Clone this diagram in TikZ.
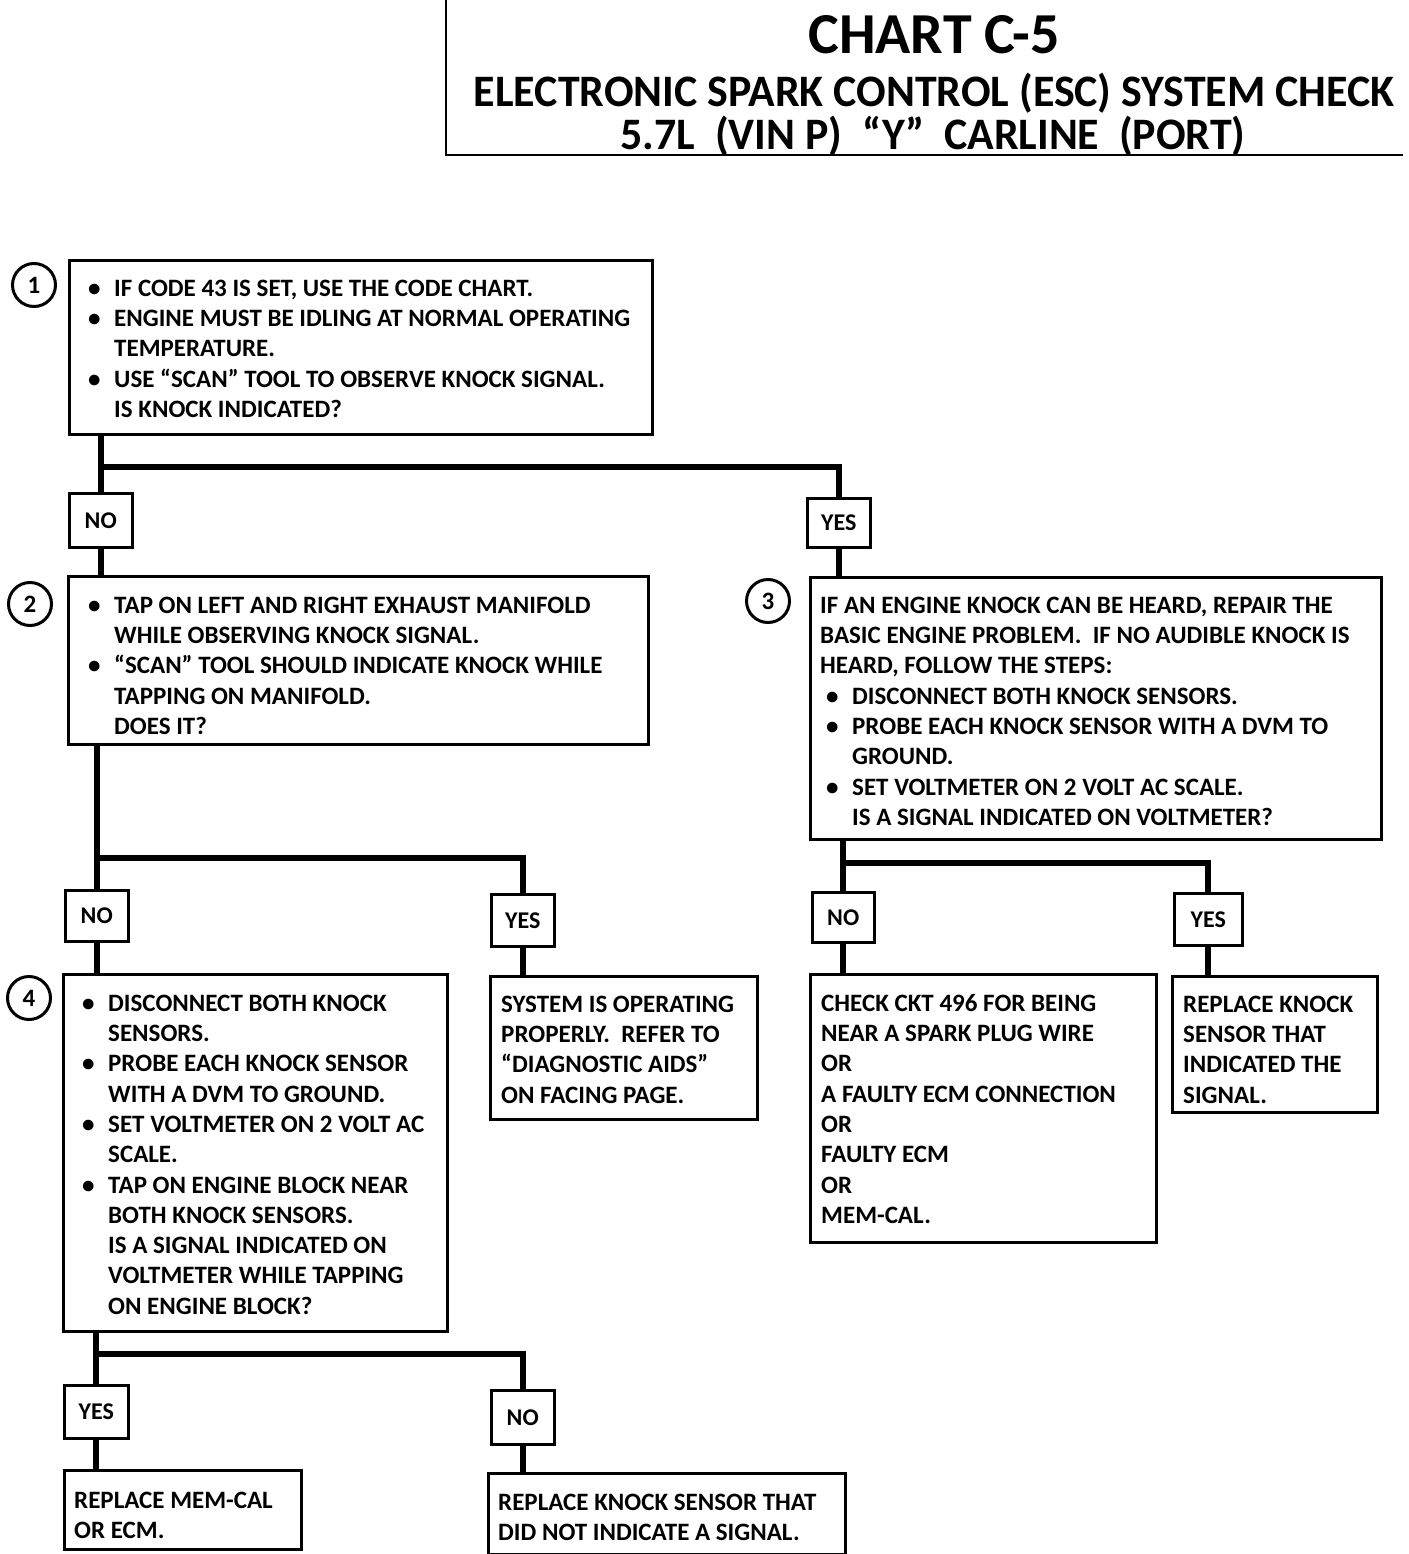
\documentclass[tikz,border=0pt]{standalone}
\usepackage{fontspec}
\setmainfont{Carlito}
\newfontfamily\titlefont{Carlito}[FakeStretch=0.975]
\newcommand\firstl{\rule{0pt}{20pt}}
\newcommand\bul{\makebox[26pt][l]{\textbullet}}
\newcommand\ind{\hspace*{26pt}}
\begin{document}
\begin{tikzpicture}[x=1pt,y=-1pt,
  box/.style={draw, line width=3pt, inner sep=0pt, anchor=north west},
  lbl/.style={draw, line width=2.5pt, inner sep=0pt, anchor=north west,
    font=\bfseries\fontsize{24}{28}\selectfont},
  wire/.style={line width=6pt, line join=miter},
  num/.style={circle, draw, line width=3pt, minimum size=43pt, inner sep=0pt,
    font=\bfseries\fontsize{25}{27}\selectfont},
  txt/.style={inner sep=0pt, anchor=north west, align=left,
    font=\bfseries\fontsize{25}{30.3}\selectfont},
  ttl/.style={inner sep=0pt, font=\titlefont\bfseries}
]
\useasboundingbox (0,0) rectangle (1408,1554);
\fill[white] (0,0) rectangle (1408,1554);

% title
\draw[line width=2.5pt] (446,0) -- (446,155) -- (1403,155);
\node[ttl, font=\bfseries\fontsize{58}{60}\selectfont] (ta) at (934,35) {CHART C-5};
\node[ttl, font=\titlefont\bfseries\fontsize{45}{50}\selectfont] (tb) at (934,93) {ELECTRONIC SPARK CONTROL (ESC) SYSTEM CHECK};
\node[ttl, font=\titlefont\bfseries\fontsize{45}{50}\selectfont] (tc) at (933,136) {5.7L\ \ (VIN P)\ \ “Y”\ \ CARLINE\ \ (PORT)};

% boxes
\node[box, minimum width=583pt, minimum height=174pt] (b1) at (68,259) {};
\node[box, minimum width=580pt, minimum height=168pt] (b2) at (67,575) {};
\node[box, minimum width=571pt, minimum height=262pt] (b3) at (809,576) {};
\node[box, minimum width=384pt, minimum height=357pt] (b4) at (62,973) {};
\node[box, minimum width=267pt, minimum height=143pt] (b5) at (489,975) {};
\node[box, minimum width=346pt, minimum height=268pt] (b6) at (809,973) {};
\node[box, minimum width=205pt, minimum height=136pt] (b7) at (1171,975) {};
\node[box, minimum width=237pt, minimum height=79pt] (b8) at (63,1469) {};
\node[box, minimum width=357pt, minimum height=81pt] (b9) at (487,1472) {};

% labels
\node[lbl, minimum width=63pt, minimum height=54pt] (no1) at (68,492) {NO};
\node[lbl, minimum width=63pt, minimum height=49pt] (yes1) at (806,497) {YES};
\node[lbl, minimum width=63pt, minimum height=51pt] (no2) at (64,889) {NO};
\node[lbl, minimum width=63pt, minimum height=52pt] (yes2) at (490,893) {YES};
\node[lbl, minimum width=62pt, minimum height=50pt] (no3) at (811,891) {NO};
\node[lbl, minimum width=68pt, minimum height=52pt] (yes3) at (1173,892) {YES};
\node[lbl, minimum width=64pt, minimum height=53pt] (yes4) at (63,1384) {YES};
\node[lbl, minimum width=63pt, minimum height=54pt] (no4) at (490,1389) {NO};

% step numbers
\node[num] (c1) at (34,285) {1};
\node[num] (c2) at (30,604) {2};
\node[num] (c3) at (768,601) {3};
\node[num] (c4) at (29,998) {4};

% junction levels
\coordinate (j1) at (0,467);
\coordinate (j2) at (0,858);
\coordinate (j3) at (0,863);
\coordinate (j4) at (0,1354);

% connectors
\draw[wire] (b1.south -| no1.north) -- (no1.north);
\draw[wire] (no1.north |- j1) -- (yes1.north |- j1) -- (yes1.north);
\draw[wire] (no1.south) -- (no1.south |- b2.north);
\draw[wire] (yes1.south) -- (yes1.south |- b3.north);

\draw[wire] (b2.south -| no2.north) -- (no2.north);
\draw[wire] (no2.north |- j2) -- (yes2.north |- j2) -- (yes2.north);
\draw[wire] (no2.south) -- (no2.south |- b4.north);
\draw[wire] (yes2.south) -- (yes2.south |- b5.north);

\draw[wire] (b3.south -| no3.north) -- (no3.north);
\draw[wire] (no3.north |- j3) -- (yes3.north |- j3) -- (yes3.north);
\draw[wire] (no3.south) -- (no3.south |- b6.north);
\draw[wire] (yes3.south) -- (yes3.south |- b7.north);

\draw[wire] (b4.south -| yes4.north) -- (yes4.north);
\draw[wire] (yes4.north |- j4) -- (no4.north |- j4) -- (no4.north);
\draw[wire] (yes4.south) -- (yes4.south |- b8.north);
\draw[wire] (no4.south) -- (no4.south |- b9.north);

% texts
\node[txt] (x1) at (88,276) {\firstl\bul IF CODE 43 IS SET, USE THE CODE CHART.\\
\bul ENGINE MUST BE IDLING AT NORMAL OPERATING\\
\ind TEMPERATURE.\\
\bul USE “SCAN” TOOL TO OBSERVE KNOCK SIGNAL.\\
\ind IS KNOCK INDICATED?};

\node[txt] (x2) at (88,593) {\firstl\bul TAP ON LEFT AND RIGHT EXHAUST MANIFOLD\\
\ind WHILE OBSERVING KNOCK SIGNAL.\\
\bul “SCAN” TOOL SHOULD INDICATE KNOCK WHILE\\
\ind TAPPING ON MANIFOLD.\\
\ind DOES IT?};

\node[txt] (x3) at (820,593) {\firstl IF AN ENGINE KNOCK CAN BE HEARD, REPAIR THE\\
BASIC ENGINE PROBLEM.\ \ IF NO AUDIBLE KNOCK IS\\
HEARD, FOLLOW THE STEPS:\\
\hspace*{6pt}\bul DISCONNECT BOTH KNOCK SENSORS.\\
\hspace*{6pt}\bul PROBE EACH KNOCK SENSOR WITH A DVM TO\\
\hspace*{6pt}\ind GROUND.\\
\hspace*{6pt}\bul SET VOLTMETER ON 2 VOLT AC SCALE.\\
\hspace*{6pt}\ind IS A SIGNAL INDICATED ON VOLTMETER?};

\node[txt] (x4) at (82,991) {\firstl\bul DISCONNECT BOTH KNOCK\\
\ind SENSORS.\\
\bul PROBE EACH KNOCK SENSOR\\
\ind WITH A DVM TO GROUND.\\
\bul SET VOLTMETER ON 2 VOLT AC\\
\ind SCALE.\\
\bul TAP ON ENGINE BLOCK NEAR\\
\ind BOTH KNOCK SENSORS.\\
\ind IS A SIGNAL INDICATED ON\\
\ind VOLTMETER WHILE TAPPING\\
\ind ON ENGINE BLOCK?};

\node[txt] (x5) at (501,992) {\firstl SYSTEM IS OPERATING\\
PROPERLY.\ \ REFER TO\\
“DIAGNOSTIC AIDS”\\
ON FACING PAGE.};

\node[txt] (x6) at (821,991) {\firstl CHECK CKT 496 FOR BEING\\
NEAR A SPARK PLUG WIRE\\
OR\\
A FAULTY ECM CONNECTION\\
OR\\
FAULTY ECM\\
OR\\
MEM-CAL.};

\node[txt] (x7) at (1183,992) {\firstl REPLACE KNOCK\\
SENSOR THAT\\
INDICATED THE\\
SIGNAL.};

\node[txt] (x8) at (74,1488) {\firstl REPLACE MEM-CAL\\
OR ECM.};

\node[txt] (x9) at (498,1490) {\firstl REPLACE KNOCK SENSOR THAT\\
DID NOT INDICATE A SIGNAL.};
\end{tikzpicture}
\end{document}
